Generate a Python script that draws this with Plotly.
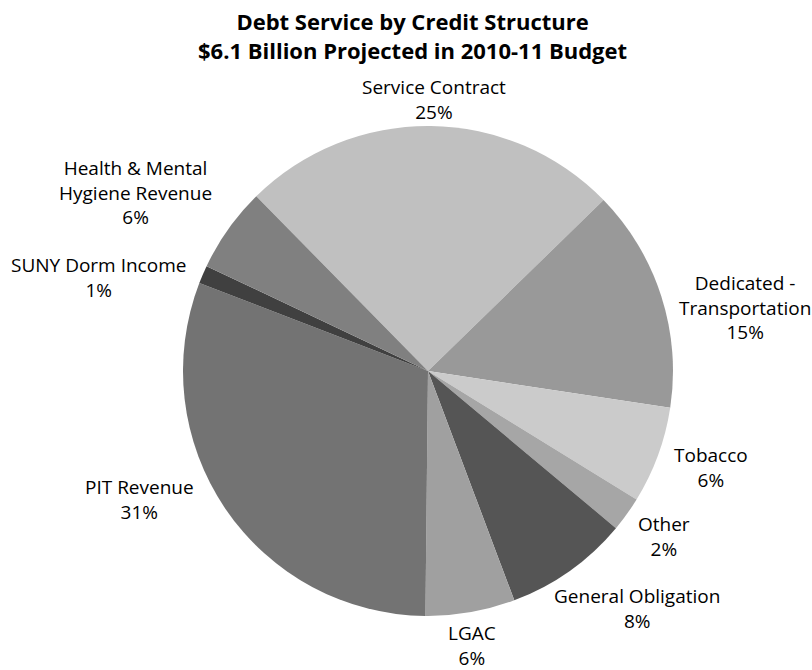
import plotly.graph_objects as go

# Debt service by credit structure, $ millions (2010-11 budget, ~$6.1B total)
categories = [
    "Service Contract",
    "Dedicated -<br>Transportation",
    "Tobacco",
    "Other",
    "General Obligation",
    "LGAC",
    "PIT Revenue",
    "SUNY Dorm Income",
    "Health & Mental<br>Hygiene Revenue",
]
amounts = [1531, 897, 390, 140, 500, 360, 1873, 73, 342]
slice_colors = [
    "#c0c0c0", "#999999", "#cbcbcb", "#a6a6a6", "#555555",
    "#a0a0a0", "#737373", "#404040", "#808080",
]

title_lines = ["Debt Service by Credit Structure", "$6.1 Billion Projected in 2010-11 Budget"]

W, H = 812, 670
cx, cy, r = 428, 371, 245
FONT = "Open Sans"

# Where each data label block sits (pixel centre, from the top-left of the page)
label_spots = [
    (434, 100), (745, 307), (711, 467), (664, 536), (637, 608),
    (472, 645), (139, 499), (98, 278), (135, 192),
]

fig = go.Figure(
    go.Pie(
        labels=categories,
        values=amounts,
        sort=False,
        direction="clockwise",
        rotation=-44.5,
        marker=dict(colors=slice_colors, line=dict(width=0)),
        textinfo="none",
        showlegend=False,
        hoverinfo="label+percent",
        domain=dict(
            x=[(cx - r) / W, (cx + r) / W],
            y=[(H - cy - r) / H, (H - cy + r) / H],
        ),
    )
)

# Category name and share of the total, shown outside each slice
total = sum(amounts)
for name, amt, (px, py) in zip(categories, amounts, label_spots):
    fig.add_annotation(
        text=f"{name}<br>{amt / total:.0%}",
        x=px / W,
        y=1 - py / H,
        xref="paper",
        yref="paper",
        xanchor="center",
        yanchor="middle",
        align="center",
        showarrow=False,
        borderpad=0,
        font=dict(family=FONT, size=19, color="#000000"),
    )

# Two-line bold chart title
fig.add_annotation(
    text="<br>".join(f"<b>{t}</b>" for t in title_lines),
    x=412 / W,
    y=1 - 35 / H,
    xref="paper",
    yref="paper",
    xanchor="center",
    yanchor="middle",
    align="center",
    showarrow=False,
    borderpad=0,
    font=dict(family=FONT, size=22, color="#000000"),
)

fig.update_layout(
    width=W,
    height=H,
    margin=dict(l=0, r=0, t=0, b=0),
    paper_bgcolor="#ffffff",
    plot_bgcolor="#ffffff",
)

fig.write_html("out.html")
